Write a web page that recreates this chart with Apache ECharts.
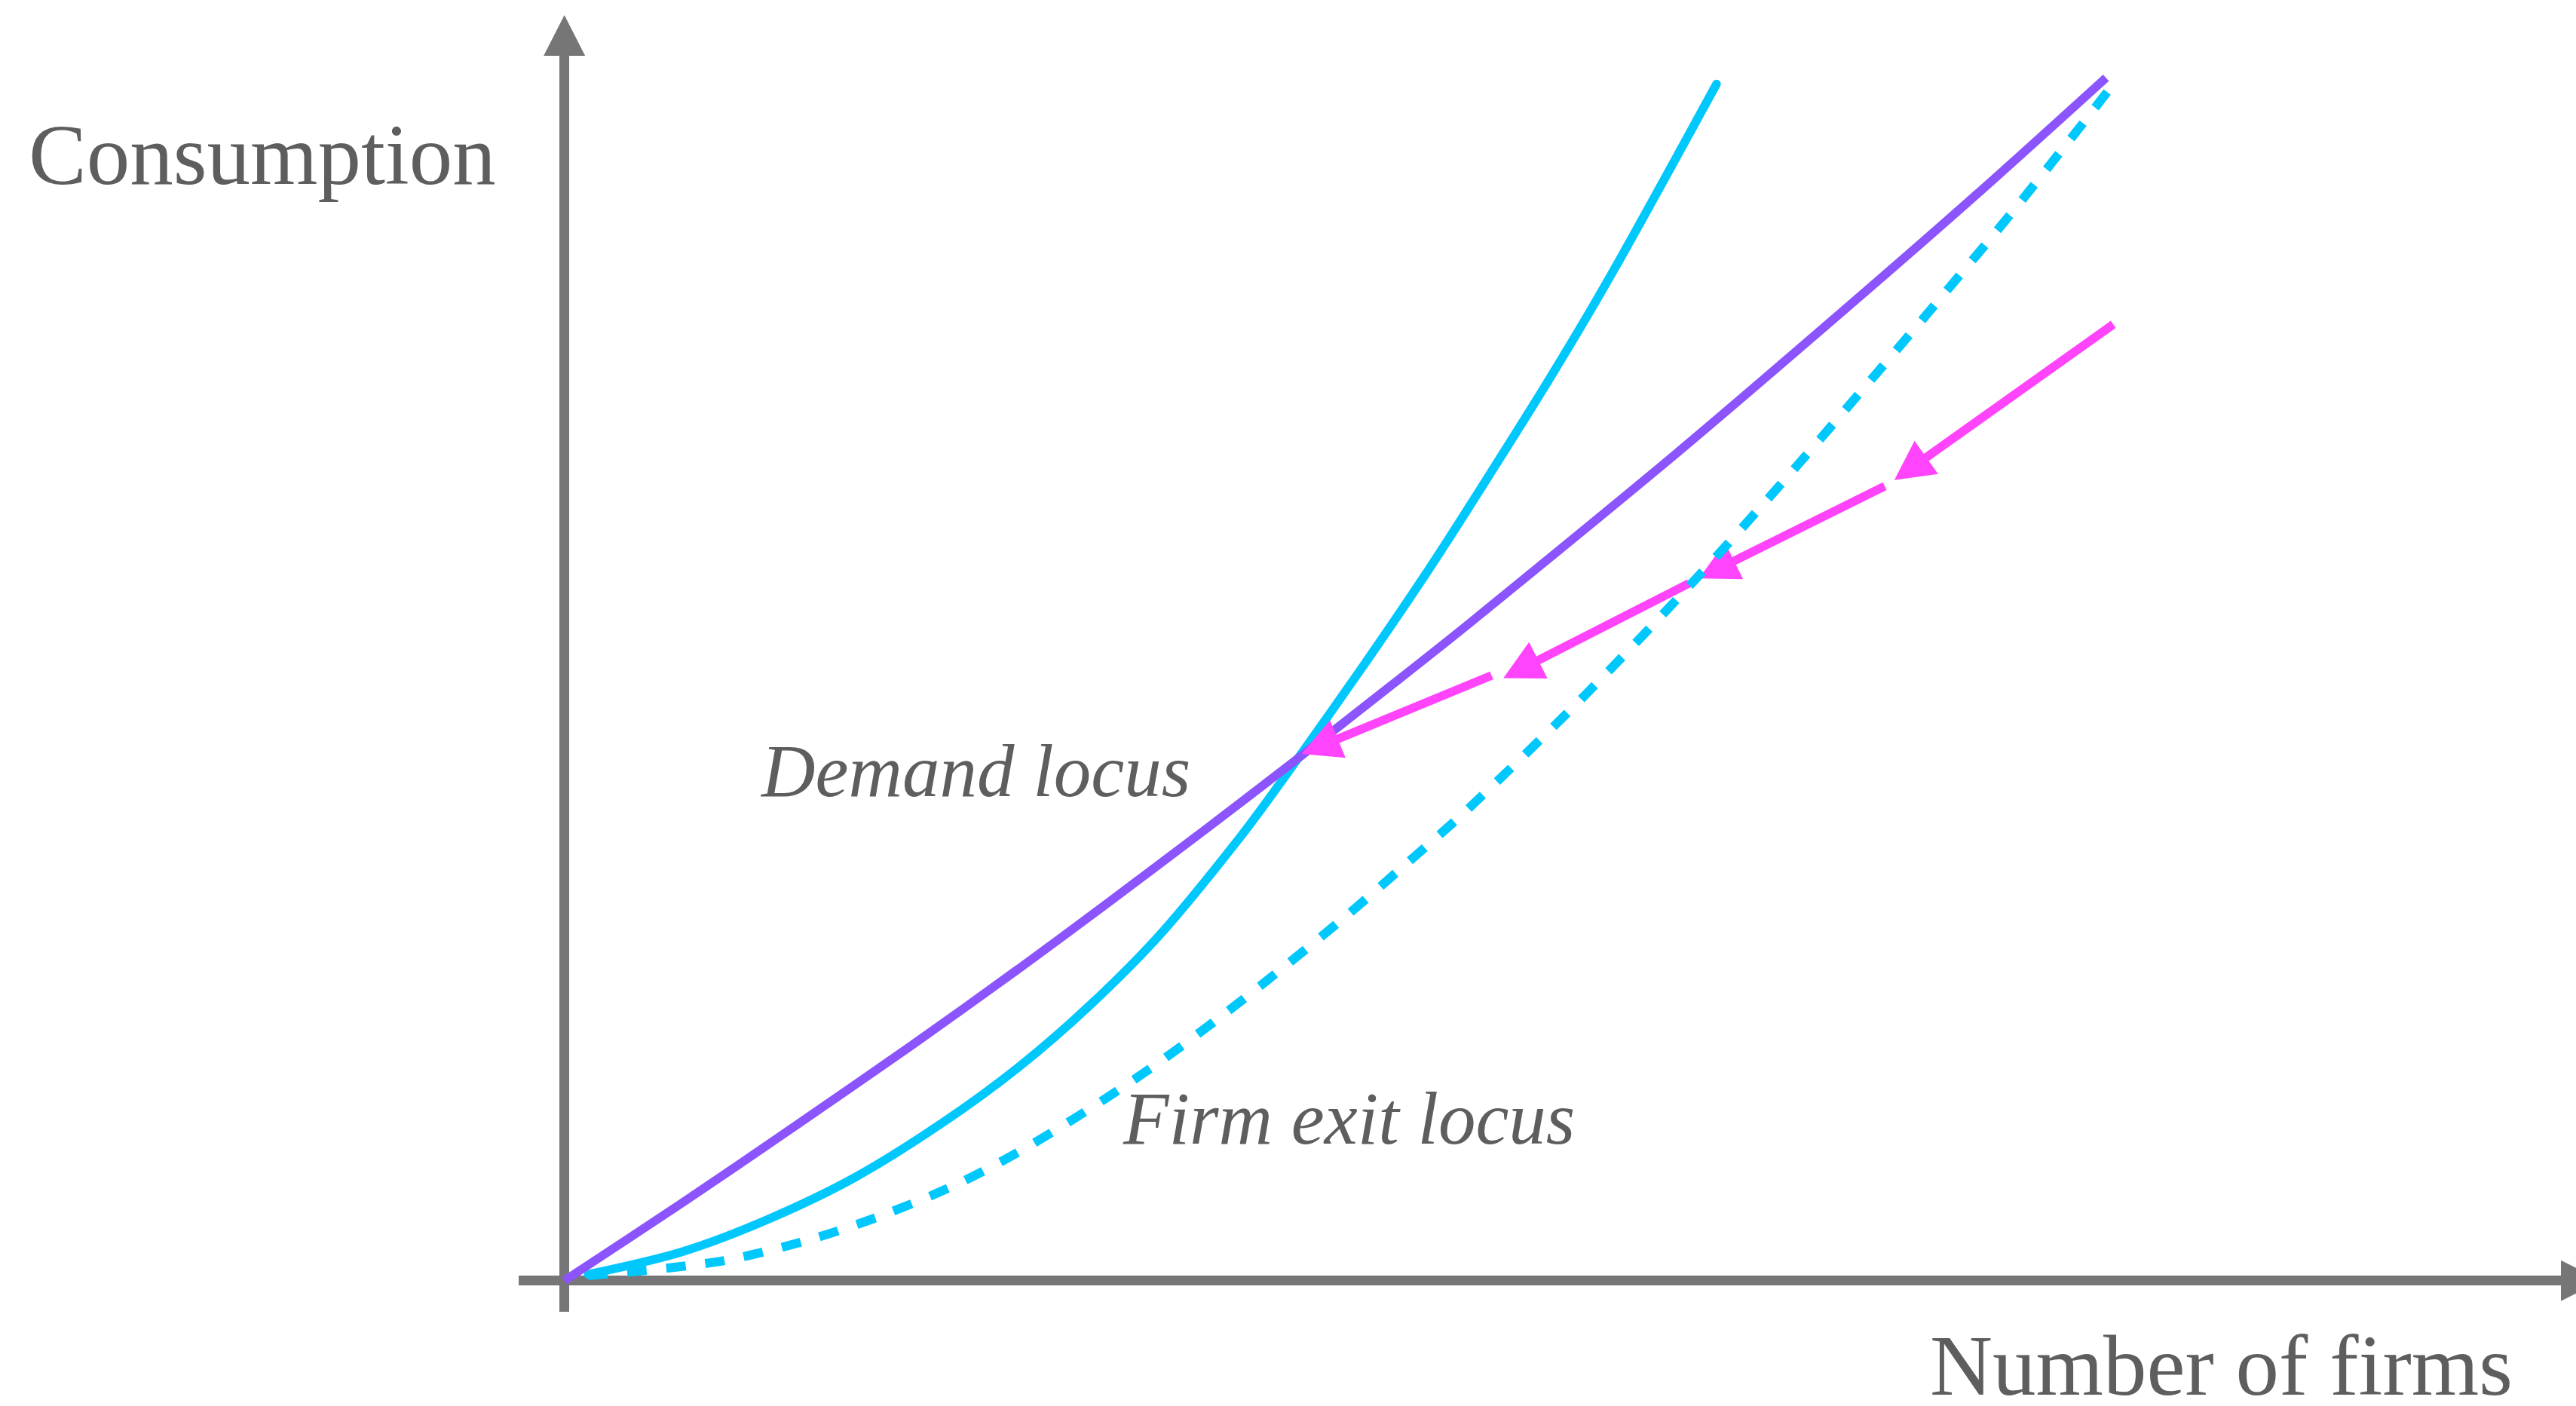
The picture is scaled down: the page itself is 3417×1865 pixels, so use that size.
<!DOCTYPE html>
<html>
<head>
<meta charset="utf-8">
<script src="https://cdn.jsdelivr.net/npm/echarts@6/dist/echarts.min.js"></script>
<style>
  html, body { margin: 0; padding: 0; background: #ffffff; }
  #chart { width: 3417px; height: 1865px; }
</style>
</head>
<body>
<div id="chart"></div>
<script>
// ---- data (arbitrary units) ----
const xAxisName = 'Number of firms';
const yAxisName = 'Consumption';
const xRange = [-0.25, 11];
const yRange = [-0.25, 10];

// purple solid curve
const demandLocus = [
  [0, 0], [0.64, 0.62], [1.27, 1.25], [1.90, 1.89], [2.48, 2.50], [2.95, 3.01],
  [3.52, 3.64], [3.99, 4.17], [4.53, 4.79], [4.95, 5.28], [6.07, 6.63],
  [7.01, 7.81], [7.72, 8.72], [8.43, 9.66]
];
// cyan solid curve
const firmExitLocus = [
  [0.13, 0.05], [0.64, 0.23], [1.11, 0.49], [1.59, 0.83], [2.06, 1.26], [2.48, 1.71],
  [2.88, 2.22], [3.27, 2.80], [3.70, 3.57], [3.99, 4.15], [4.37, 4.94],
  [4.69, 5.63], [4.95, 6.22], [5.39, 7.25], [5.74, 8.12], [6.30, 9.61]
];
// cyan dashed curve
const firmExitLocusShifted = [
  [0.13, 0.04], [0.83, 0.15], [1.32, 0.32], [1.73, 0.52], [2.14, 0.77], [2.48, 1.03],
  [2.84, 1.35], [3.22, 1.72], [3.58, 2.11], [3.91, 2.49], [4.26, 2.91],
  [4.59, 3.33], [4.95, 3.80], [5.58, 4.70], [6.19, 5.64], [6.69, 6.46],
  [7.16, 7.26], [7.49, 7.83], [7.90, 8.55], [8.28, 9.25], [8.46, 9.59]
];
// magenta adjustment path: segment starts and arrow-head centres
const adjustStart = [[8.47, 7.68], [7.22, 6.38], [6.15, 5.60], [5.07, 4.86]];
const adjustArrow = [[7.36, 6.52], [6.30, 5.71], [5.23, 4.91], [4.13, 4.29]];

// labels
const curveLabels = ['Demand locus', 'Firm exit locus'];

// ---- styles ----
const AXIS = '#767676';
const TEXT = '#5e5e5e';
const PURPLE = '#8c54fc';
const CYAN = '#00c8fd';
const MAGENTA = '#ff44fb';
const SERIF = '"Liberation Serif", "DejaVu Serif", serif';

const chart = echarts.init(document.getElementById('chart'), null, { renderer: 'canvas' });

const hiddenAxisBits = {
  axisTick: { show: false },
  axisLabel: { show: false },
  splitLine: { show: false }
};

const option = {
  animation: false,
  backgroundColor: '#ffffff',
  grid: { left: 688, right: 0, top: 47, bottom: 125, containLabel: false },
  xAxis: Object.assign({
    type: 'value',
    min: xRange[0], max: xRange[1],
    axisLine: {
      show: true, onZero: true,
      lineStyle: { color: AXIS, width: 13, cap: 'butt' },
      symbol: ['none', 'triangle'],
      symbolSize: [54, 54],
      symbolOffset: [0, 7]
    }
  }, hiddenAxisBits),
  yAxis: Object.assign({
    type: 'value',
    min: yRange[0], max: yRange[1],
    axisLine: {
      show: true, onZero: true,
      lineStyle: { color: AXIS, width: 13, cap: 'butt' },
      symbol: ['none', 'triangle'],
      symbolSize: [55, 54],
      symbolOffset: [0, 0]
    }
  }, hiddenAxisBits),
  series: [
    {
      type: 'line', name: 'firm exit', data: firmExitLocus, smooth: 0.3,
      showSymbol: false, symbol: 'none', z: 2,
      lineStyle: { color: CYAN, width: 11.5, cap: 'round' }
    },
    {
      type: 'line', name: 'demand', data: demandLocus, smooth: 0.3,
      showSymbol: false, symbol: 'none', z: 3,
      lineStyle: { color: PURPLE, width: 11.5, cap: 'butt' }
    },
    {
      type: 'lines', coordinateSystem: 'cartesian2d', z: 4,
      polyline: false,
      symbol: ['none', 'triangle'],
      symbolSize: [0, [54, 52]],
      lineStyle: { color: MAGENTA, width: 11.5, opacity: 1, curveness: 0, cap: 'butt' },
      data: adjustStart.map((s, i) => ({ coords: [s, adjustArrow[i]] }))
    },
    {
      type: 'line', name: 'firm exit shifted', data: firmExitLocusShifted, smooth: 0.3,
      showSymbol: false, symbol: 'none', z: 5,
      lineStyle: { color: CYAN, width: 12, type: [26, 26], cap: 'butt' }
    }
  ],
  graphic: [
    { type: 'text', x: 38, y: 214, z: 10, silent: true,
      style: { text: yAxisName, font: '115px ' + SERIF, fill: TEXT,
               align: 'left', verticalAlign: 'middle', textAlign: 'left', textVerticalAlign: 'middle' } },
    { type: 'text', x: 2560, y: 1820, z: 10, silent: true,
      style: { text: xAxisName, font: '115px ' + SERIF, fill: TEXT,
               align: 'left', verticalAlign: 'middle', textAlign: 'left', textVerticalAlign: 'middle' } },
    { type: 'text', x: 1010, y: 1030, z: 10, silent: true,
      style: { text: curveLabels[0], font: 'italic 99px ' + SERIF, fill: TEXT,
               align: 'left', verticalAlign: 'middle', textAlign: 'left', textVerticalAlign: 'middle' } },
    { type: 'text', x: 1490, y: 1491, z: 10, silent: true,
      style: { text: curveLabels[1], font: 'italic 99px ' + SERIF, fill: TEXT,
               align: 'left', verticalAlign: 'middle', textAlign: 'left', textVerticalAlign: 'middle' } }
  ]
};

chart.setOption(option);
</script>
</body>
</html>
